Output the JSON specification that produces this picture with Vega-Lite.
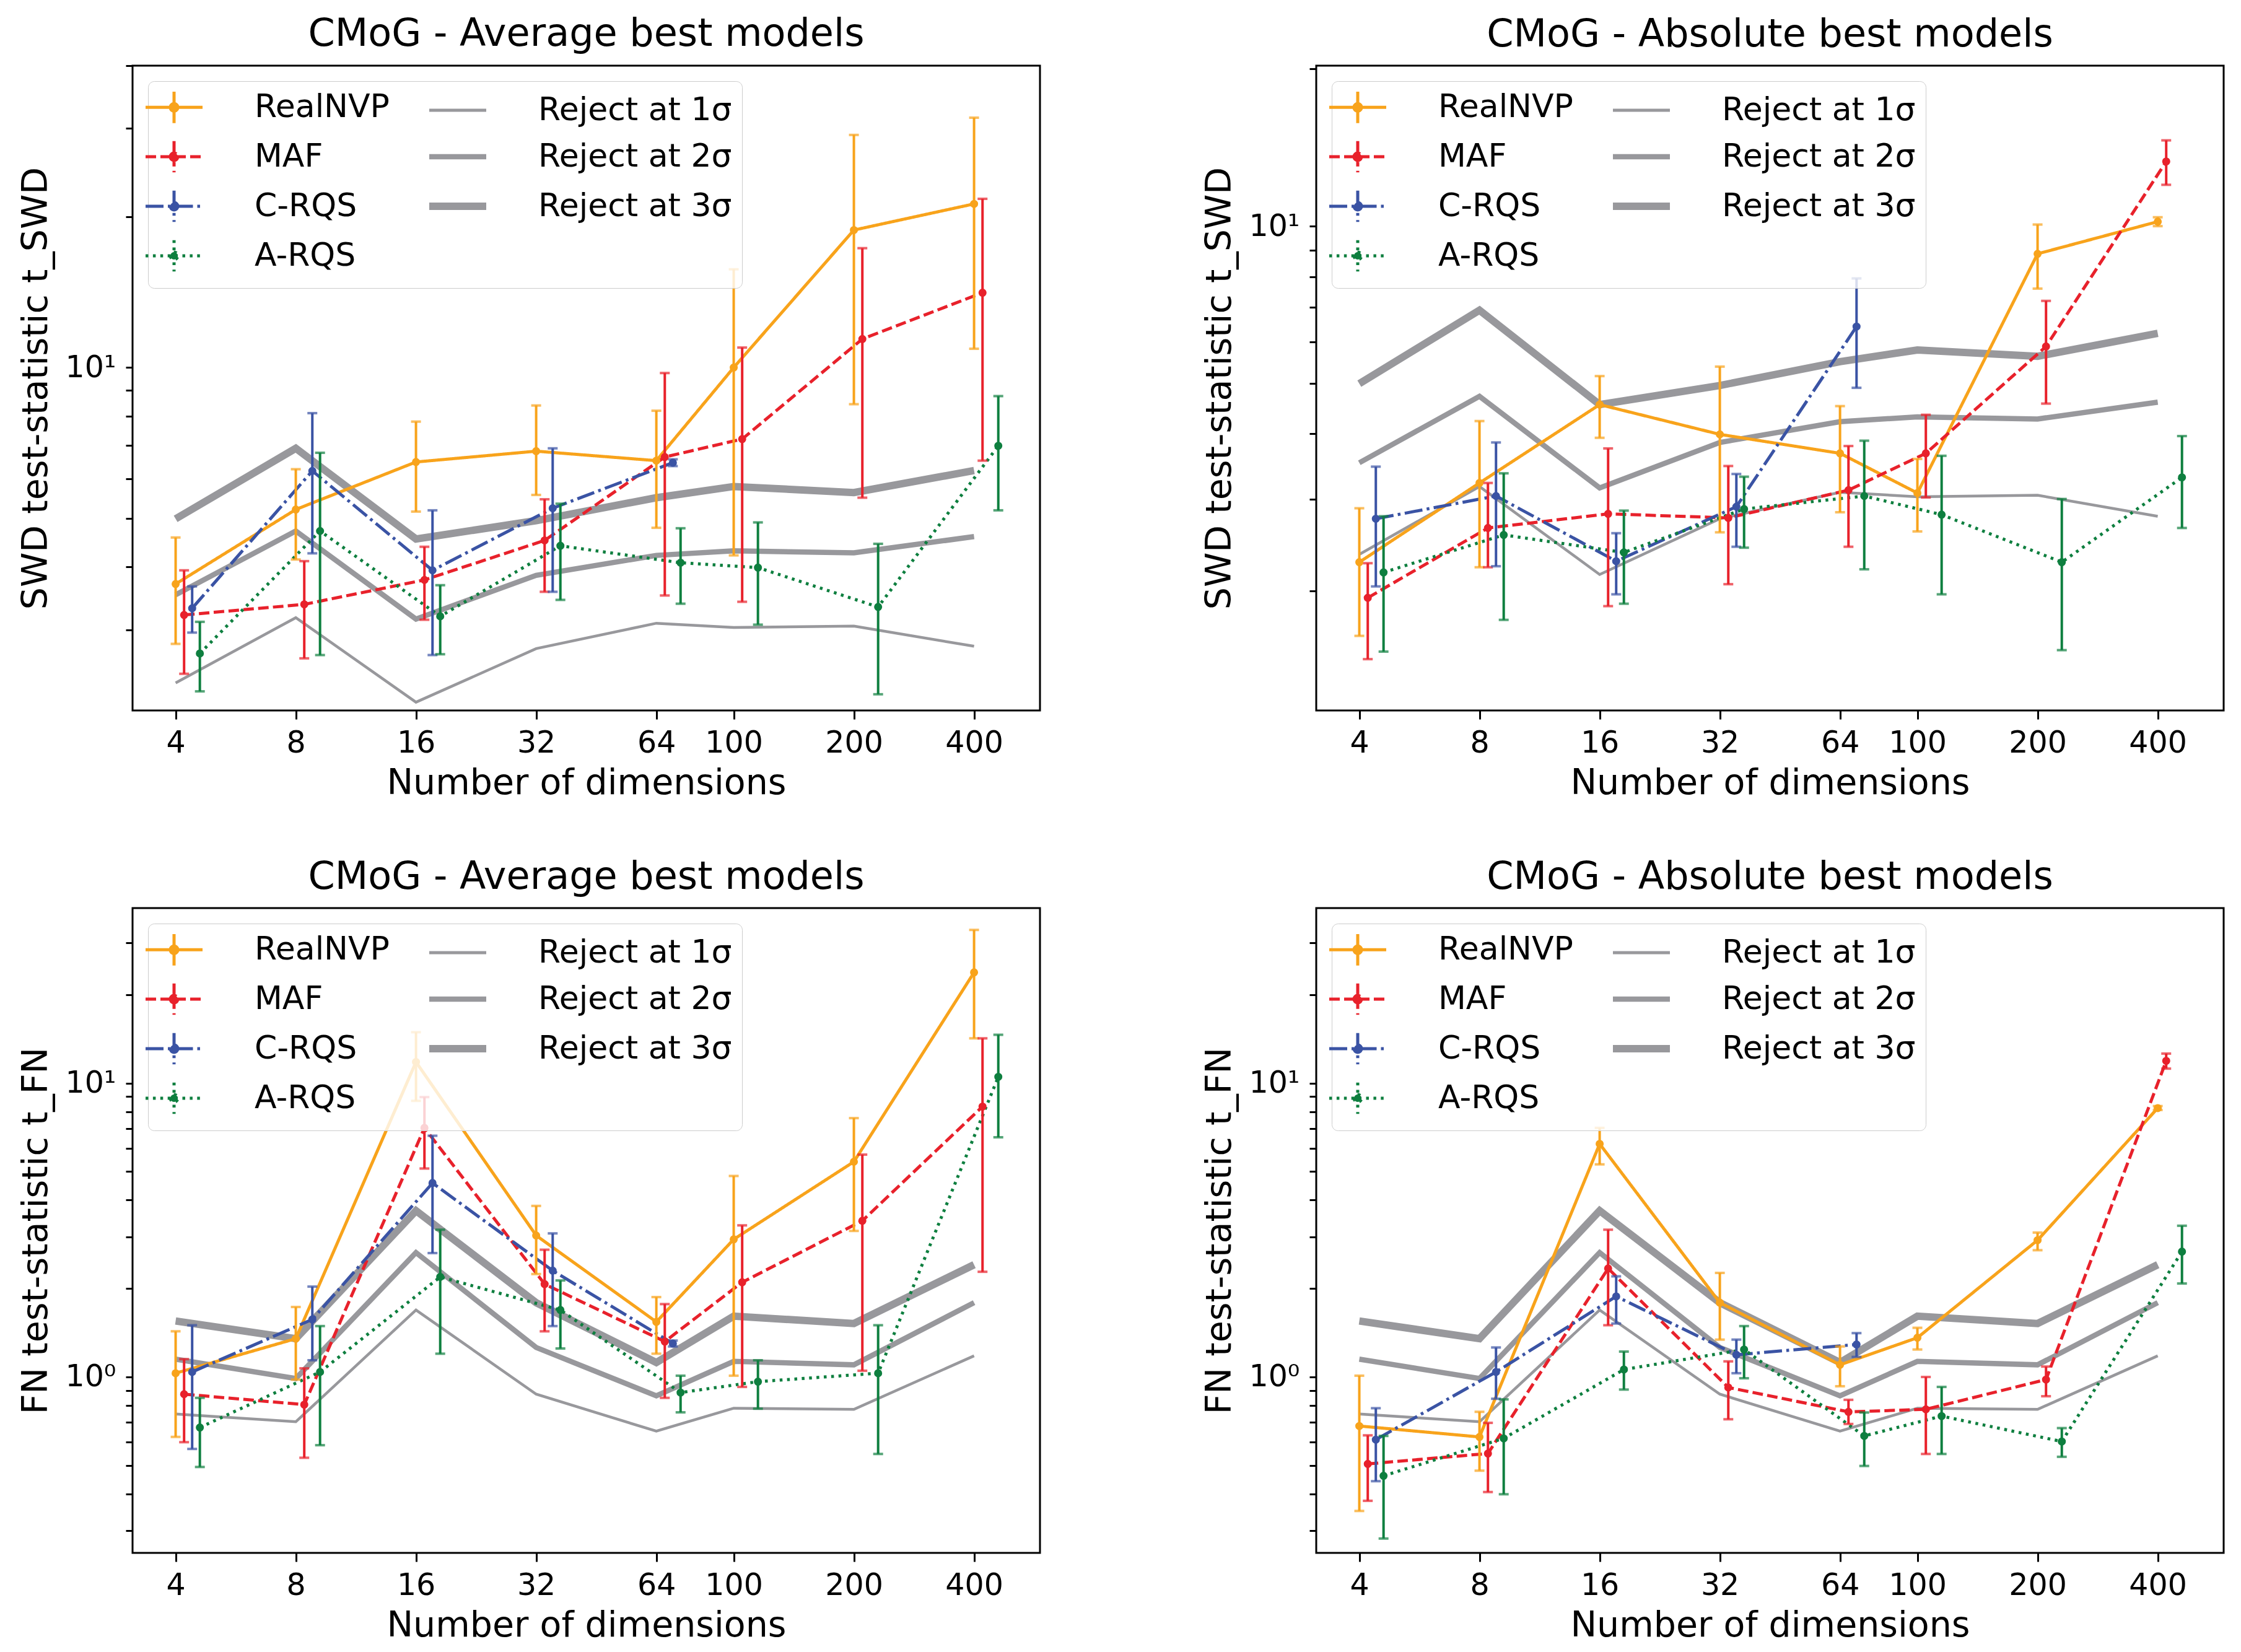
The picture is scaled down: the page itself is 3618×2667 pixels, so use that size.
{
  "$schema": "https://vega.github.io/schema/vega-lite/v6.json",
  "padding": {"left": 27, "top": 22, "right": 30, "bottom": 5},
  "background": "white",
  "bounds": "flush",
  "columns": 2,
  "spacing": {"row": 319, "column": 446},
  "resolve": {
    "scale": {"color": "independent", "strokeDash": "independent", "strokeWidth": "independent"},
    "legend": {"color": "independent", "strokeDash": "independent", "strokeWidth": "independent"}
  },
  "config": {
    "font": "DejaVu Sans",
    "view": {"stroke": "black", "strokeWidth": 3},
    "axis": {
      "domain": false, "grid": false, "tickColor": "black", "tickWidth": 3,
      "labelColor": "black", "labelFontSize": 49, "labelFont": "DejaVu Sans",
      "titleFontSize": 57, "titleFontWeight": "normal", "titleColor": "black", "titleFont": "DejaVu Sans"
    },
    "axisX": {"titlePadding": 12, "tickSize": 14, "labelPadding": 14},
    "axisY": {"titlePadding": 18, "labelPadding": 16, "tickSize": 11},
    "title": {"fontSize": 62, "fontWeight": "normal", "color": "black", "font": "DejaVu Sans", "offset": 18}
  },
  "datasets": {
    "swd_avg": [
      {"series": "RealNVP", "x": 4, "y": 3.70, "lo": 2.81, "hi": 4.58},
      {"series": "RealNVP", "x": 8, "y": 5.21, "lo": 4.14, "hi": 6.27},
      {"series": "RealNVP", "x": 16, "y": 6.48, "lo": 5.16, "hi": 7.80},
      {"series": "RealNVP", "x": 32, "y": 6.81, "lo": 5.57, "hi": 8.40},
      {"series": "RealNVP", "x": 64, "y": 6.52, "lo": 4.79, "hi": 8.20},
      {"series": "RealNVP", "x": 100, "y": 10.0, "lo": 4.22, "hi": 15.7},
      {"series": "RealNVP", "x": 200, "y": 18.8, "lo": 8.45, "hi": 29.1},
      {"series": "RealNVP", "x": 400, "y": 21.2, "lo": 10.9, "hi": 31.5},
      {"series": "MAF", "x": 4.2, "y": 3.21, "lo": 2.45, "hi": 3.94},
      {"series": "MAF", "x": 8.4, "y": 3.37, "lo": 2.63, "hi": 4.11},
      {"series": "MAF", "x": 16.8, "y": 3.77, "lo": 3.14, "hi": 4.39},
      {"series": "MAF", "x": 33.6, "y": 4.52, "lo": 3.57, "hi": 5.46},
      {"series": "MAF", "x": 67.2, "y": 6.63, "lo": 3.51, "hi": 9.75},
      {"series": "MAF", "x": 105, "y": 7.20, "lo": 3.41, "hi": 10.96},
      {"series": "MAF", "x": 210, "y": 11.4, "lo": 5.50, "hi": 17.3},
      {"series": "MAF", "x": 420, "y": 14.1, "lo": 6.52, "hi": 21.7},
      {"series": "C-RQS", "x": 4.4, "y": 3.31, "lo": 2.96, "hi": 3.66},
      {"series": "C-RQS", "x": 8.8, "y": 6.22, "lo": 4.26, "hi": 8.11},
      {"series": "C-RQS", "x": 17.6, "y": 3.94, "lo": 2.67, "hi": 5.19},
      {"series": "C-RQS", "x": 35.2, "y": 5.24, "lo": 3.57, "hi": 6.90},
      {"series": "C-RQS", "x": 70.4, "y": 6.46, "lo": 6.36, "hi": 6.56},
      {"series": "A-RQS", "x": 4.6, "y": 2.69, "lo": 2.26, "hi": 3.11},
      {"series": "A-RQS", "x": 9.2, "y": 4.72, "lo": 2.67, "hi": 6.76},
      {"series": "A-RQS", "x": 18.4, "y": 3.19, "lo": 2.68, "hi": 3.68},
      {"series": "A-RQS", "x": 36.8, "y": 4.41, "lo": 3.44, "hi": 5.35},
      {"series": "A-RQS", "x": 73.6, "y": 4.08, "lo": 3.38, "hi": 4.78},
      {"series": "A-RQS", "x": 115, "y": 3.99, "lo": 3.07, "hi": 4.91},
      {"series": "A-RQS", "x": 230, "y": 3.33, "lo": 2.23, "hi": 4.45},
      {"series": "A-RQS", "x": 460, "y": 6.98, "lo": 5.19, "hi": 8.77}
    ],
    "swd_abs": [
      {"series": "RealNVP", "x": 4, "y": 2.27, "lo": 1.64, "hi": 2.88},
      {"series": "RealNVP", "x": 8, "y": 3.22, "lo": 2.22, "hi": 4.23},
      {"series": "RealNVP", "x": 16, "y": 4.55, "lo": 3.93, "hi": 5.16},
      {"series": "RealNVP", "x": 32, "y": 3.99, "lo": 2.59, "hi": 5.38},
      {"series": "RealNVP", "x": 64, "y": 3.67, "lo": 2.83, "hi": 4.52},
      {"series": "RealNVP", "x": 100, "y": 3.08, "lo": 2.60, "hi": 3.58},
      {"series": "RealNVP", "x": 200, "y": 8.85, "lo": 7.59, "hi": 10.07},
      {"series": "RealNVP", "x": 400, "y": 10.2, "lo": 10.0, "hi": 10.4},
      {"series": "MAF", "x": 4.2, "y": 1.94, "lo": 1.48, "hi": 2.26},
      {"series": "MAF", "x": 8.4, "y": 2.64, "lo": 2.22, "hi": 3.22},
      {"series": "MAF", "x": 16.8, "y": 2.81, "lo": 1.87, "hi": 3.75},
      {"series": "MAF", "x": 33.6, "y": 2.76, "lo": 2.06, "hi": 3.47},
      {"series": "MAF", "x": 67.2, "y": 3.12, "lo": 2.43, "hi": 3.79},
      {"series": "MAF", "x": 105, "y": 3.67, "lo": 3.02, "hi": 4.35},
      {"series": "MAF", "x": 210, "y": 5.88, "lo": 4.57, "hi": 7.19},
      {"series": "MAF", "x": 420, "y": 13.3, "lo": 12.0, "hi": 14.6},
      {"series": "C-RQS", "x": 4.4, "y": 2.75, "lo": 2.04, "hi": 3.46},
      {"series": "C-RQS", "x": 8.8, "y": 3.04, "lo": 2.23, "hi": 3.85},
      {"series": "C-RQS", "x": 17.6, "y": 2.28, "lo": 1.97, "hi": 2.58},
      {"series": "C-RQS", "x": 35.2, "y": 2.90, "lo": 2.43, "hi": 3.35},
      {"series": "C-RQS", "x": 70.4, "y": 6.42, "lo": 4.90, "hi": 7.94},
      {"series": "A-RQS", "x": 4.6, "y": 2.17, "lo": 1.53, "hi": 2.78},
      {"series": "A-RQS", "x": 9.2, "y": 2.56, "lo": 1.76, "hi": 3.36},
      {"series": "A-RQS", "x": 18.4, "y": 2.37, "lo": 1.89, "hi": 2.85},
      {"series": "A-RQS", "x": 36.8, "y": 2.87, "lo": 2.42, "hi": 3.31},
      {"series": "A-RQS", "x": 73.6, "y": 3.04, "lo": 2.20, "hi": 3.88},
      {"series": "A-RQS", "x": 115, "y": 2.80, "lo": 1.97, "hi": 3.63},
      {"series": "A-RQS", "x": 230, "y": 2.27, "lo": 1.54, "hi": 3.00},
      {"series": "A-RQS", "x": 460, "y": 3.30, "lo": 2.64, "hi": 3.96}
    ],
    "rej_swd": [
      {"series": "Reject at 1σ", "x": 4, "y": 2.35},
      {"series": "Reject at 1σ", "x": 8, "y": 3.17},
      {"series": "Reject at 1σ", "x": 16, "y": 2.15},
      {"series": "Reject at 1σ", "x": 32, "y": 2.75},
      {"series": "Reject at 1σ", "x": 64, "y": 3.09},
      {"series": "Reject at 1σ", "x": 100, "y": 3.03},
      {"series": "Reject at 1σ", "x": 200, "y": 3.05},
      {"series": "Reject at 1σ", "x": 400, "y": 2.78},
      {"series": "Reject at 2σ", "x": 4, "y": 3.52},
      {"series": "Reject at 2σ", "x": 8, "y": 4.72},
      {"series": "Reject at 2σ", "x": 16, "y": 3.15},
      {"series": "Reject at 2σ", "x": 32, "y": 3.85},
      {"series": "Reject at 2σ", "x": 64, "y": 4.22},
      {"series": "Reject at 2σ", "x": 100, "y": 4.31},
      {"series": "Reject at 2σ", "x": 200, "y": 4.27},
      {"series": "Reject at 2σ", "x": 400, "y": 4.60},
      {"series": "Reject at 3σ", "x": 4, "y": 4.99},
      {"series": "Reject at 3σ", "x": 8, "y": 6.90},
      {"series": "Reject at 3σ", "x": 16, "y": 4.55},
      {"series": "Reject at 3σ", "x": 32, "y": 4.95},
      {"series": "Reject at 3σ", "x": 64, "y": 5.50},
      {"series": "Reject at 3σ", "x": 100, "y": 5.79},
      {"series": "Reject at 3σ", "x": 200, "y": 5.63},
      {"series": "Reject at 3σ", "x": 400, "y": 6.23}
    ],
    "fn_avg": [
      {"series": "RealNVP", "x": 4, "y": 1.03, "lo": 0.625, "hi": 1.43},
      {"series": "RealNVP", "x": 8, "y": 1.35, "lo": 0.98, "hi": 1.73},
      {"series": "RealNVP", "x": 16, "y": 11.8, "lo": 8.7, "hi": 14.9},
      {"series": "RealNVP", "x": 32, "y": 3.03, "lo": 2.24, "hi": 3.82},
      {"series": "RealNVP", "x": 64, "y": 1.54, "lo": 1.20, "hi": 1.87},
      {"series": "RealNVP", "x": 100, "y": 2.94, "lo": 1.01, "hi": 4.83},
      {"series": "RealNVP", "x": 200, "y": 5.40, "lo": 3.14, "hi": 7.60},
      {"series": "RealNVP", "x": 400, "y": 23.8, "lo": 14.2, "hi": 33.2},
      {"series": "MAF", "x": 4.2, "y": 0.874, "lo": 0.60, "hi": 1.15},
      {"series": "MAF", "x": 8.4, "y": 0.805, "lo": 0.531, "hi": 1.07},
      {"series": "MAF", "x": 16.8, "y": 7.04, "lo": 5.12, "hi": 8.96},
      {"series": "MAF", "x": 33.6, "y": 2.07, "lo": 1.43, "hi": 2.71},
      {"series": "MAF", "x": 67.2, "y": 1.32, "lo": 0.849, "hi": 1.77},
      {"series": "MAF", "x": 105, "y": 2.10, "lo": 0.925, "hi": 3.28},
      {"series": "MAF", "x": 210, "y": 3.40, "lo": 1.05, "hi": 5.71},
      {"series": "MAF", "x": 420, "y": 8.32, "lo": 2.28, "hi": 14.2},
      {"series": "C-RQS", "x": 4.4, "y": 1.04, "lo": 0.569, "hi": 1.50},
      {"series": "C-RQS", "x": 8.8, "y": 1.57, "lo": 1.14, "hi": 2.03},
      {"series": "C-RQS", "x": 17.6, "y": 4.57, "lo": 2.64, "hi": 6.62},
      {"series": "C-RQS", "x": 35.2, "y": 2.30, "lo": 1.49, "hi": 3.08},
      {"series": "C-RQS", "x": 70.4, "y": 1.30, "lo": 1.27, "hi": 1.33},
      {"series": "A-RQS", "x": 4.6, "y": 0.673, "lo": 0.494, "hi": 0.849},
      {"series": "A-RQS", "x": 9.2, "y": 1.04, "lo": 0.586, "hi": 1.49},
      {"series": "A-RQS", "x": 18.4, "y": 2.19, "lo": 1.20, "hi": 3.17},
      {"series": "A-RQS", "x": 36.8, "y": 1.69, "lo": 1.25, "hi": 2.13},
      {"series": "A-RQS", "x": 73.6, "y": 0.885, "lo": 0.758, "hi": 1.01},
      {"series": "A-RQS", "x": 115, "y": 0.964, "lo": 0.78, "hi": 1.14},
      {"series": "A-RQS", "x": 230, "y": 1.03, "lo": 0.547, "hi": 1.50},
      {"series": "A-RQS", "x": 460, "y": 10.5, "lo": 6.54, "hi": 14.6}
    ],
    "fn_abs": [
      {"series": "RealNVP", "x": 4, "y": 0.681, "lo": 0.35, "hi": 1.01},
      {"series": "RealNVP", "x": 8, "y": 0.625, "lo": 0.48, "hi": 0.761},
      {"series": "RealNVP", "x": 16, "y": 6.21, "lo": 5.29, "hi": 7.04},
      {"series": "RealNVP", "x": 32, "y": 1.79, "lo": 1.34, "hi": 2.26},
      {"series": "RealNVP", "x": 64, "y": 1.10, "lo": 0.93, "hi": 1.27},
      {"series": "RealNVP", "x": 100, "y": 1.36, "lo": 1.24, "hi": 1.47},
      {"series": "RealNVP", "x": 200, "y": 2.92, "lo": 2.70, "hi": 3.10},
      {"series": "RealNVP", "x": 400, "y": 8.22, "lo": 8.10, "hi": 8.35},
      {"series": "MAF", "x": 4.2, "y": 0.506, "lo": 0.379, "hi": 0.633},
      {"series": "MAF", "x": 8.4, "y": 0.549, "lo": 0.406, "hi": 0.698},
      {"series": "MAF", "x": 16.8, "y": 2.34, "lo": 1.50, "hi": 3.17},
      {"series": "MAF", "x": 33.6, "y": 0.921, "lo": 0.718, "hi": 1.13},
      {"series": "MAF", "x": 67.2, "y": 0.761, "lo": 0.692, "hi": 0.836},
      {"series": "MAF", "x": 105, "y": 0.776, "lo": 0.547, "hi": 1.0},
      {"series": "MAF", "x": 210, "y": 0.98, "lo": 0.86, "hi": 1.085},
      {"series": "MAF", "x": 420, "y": 11.9, "lo": 11.2, "hi": 12.6},
      {"series": "C-RQS", "x": 4.4, "y": 0.612, "lo": 0.442, "hi": 0.783},
      {"series": "C-RQS", "x": 8.8, "y": 1.04, "lo": 0.843, "hi": 1.26},
      {"series": "C-RQS", "x": 17.6, "y": 1.88, "lo": 1.52, "hi": 2.20},
      {"series": "C-RQS", "x": 35.2, "y": 1.19, "lo": 1.03, "hi": 1.34},
      {"series": "C-RQS", "x": 70.4, "y": 1.29, "lo": 1.17, "hi": 1.41},
      {"series": "A-RQS", "x": 4.6, "y": 0.461, "lo": 0.282, "hi": 0.63},
      {"series": "A-RQS", "x": 9.2, "y": 0.618, "lo": 0.399, "hi": 0.839},
      {"series": "A-RQS", "x": 18.4, "y": 1.06, "lo": 0.906, "hi": 1.22},
      {"series": "A-RQS", "x": 36.8, "y": 1.24, "lo": 0.99, "hi": 1.49},
      {"series": "A-RQS", "x": 73.6, "y": 0.63, "lo": 0.498, "hi": 0.757},
      {"series": "A-RQS", "x": 115, "y": 0.736, "lo": 0.547, "hi": 0.925},
      {"series": "A-RQS", "x": 230, "y": 0.603, "lo": 0.535, "hi": 0.67},
      {"series": "A-RQS", "x": 460, "y": 2.67, "lo": 2.08, "hi": 3.27}
    ],
    "rej_fn": [
      {"series": "Reject at 1σ", "x": 4, "y": 0.748},
      {"series": "Reject at 1σ", "x": 8, "y": 0.704},
      {"series": "Reject at 1σ", "x": 16, "y": 1.69},
      {"series": "Reject at 1σ", "x": 32, "y": 0.874},
      {"series": "Reject at 1σ", "x": 64, "y": 0.654},
      {"series": "Reject at 1σ", "x": 100, "y": 0.783},
      {"series": "Reject at 1σ", "x": 200, "y": 0.776},
      {"series": "Reject at 1σ", "x": 400, "y": 1.18},
      {"series": "Reject at 2σ", "x": 4, "y": 1.15},
      {"series": "Reject at 2σ", "x": 8, "y": 0.988},
      {"series": "Reject at 2σ", "x": 16, "y": 2.65},
      {"series": "Reject at 2σ", "x": 32, "y": 1.26},
      {"series": "Reject at 2σ", "x": 64, "y": 0.863},
      {"series": "Reject at 2σ", "x": 100, "y": 1.13},
      {"series": "Reject at 2σ", "x": 200, "y": 1.10},
      {"series": "Reject at 2σ", "x": 400, "y": 1.79},
      {"series": "Reject at 3σ", "x": 4, "y": 1.55},
      {"series": "Reject at 3σ", "x": 8, "y": 1.35},
      {"series": "Reject at 3σ", "x": 16, "y": 3.68},
      {"series": "Reject at 3σ", "x": 32, "y": 1.79},
      {"series": "Reject at 3σ", "x": 64, "y": 1.12},
      {"series": "Reject at 3σ", "x": 100, "y": 1.61},
      {"series": "Reject at 3σ", "x": 200, "y": 1.52},
      {"series": "Reject at 3σ", "x": 400, "y": 2.41}
    ]
  },
  "concat": [
    {
      "width": 1465, "height": 1041,
      "title": "CMoG - Average best models",
      "encoding": {
        "x": {"field": "x", "type": "quantitative", "scale": {"type": "log", "domain": [3.12, 585], "nice": false}, "axis": {"title": "Number of dimensions", "values": [4, 8, 16, 32, 64, 100, 200, 400], "format": "d"}},
        "color": {"field": "series", "type": "nominal", "scale": {"domain": ["RealNVP", "MAF", "C-RQS", "A-RQS", "Reject at 1σ", "Reject at 2σ", "Reject at 3σ"], "range": ["#F8A31B", "#E8212B", "#3A53A4", "#0E7F3F", "#98989C", "#98989C", "#98989C"]},
          "legend": {"title": null, "orient": "top-left", "offset": 25, "columns": 2, "symbolType": "stroke", "symbolSize": 8464, "labelFontSize": 52, "labelColor": "black", "labelLimit": 800, "labelOffset": 104, "columnPadding": 40, "rowPadding": 8, "padding": 16, "strokeColor": "#cccccc", "fillColor": "rgba(255,255,255,0.8)", "cornerRadius": 10,
            "encode": {"symbols": {"update": {
              "shape": {"signal": "indexof(['RealNVP','MAF','C-RQS','A-RQS'], datum.value) >= 0 ? 'M-1,0H1M0,-0.55V0.55M-0.13,0A0.13,0.13,0,1,0,0.13,0A0.13,0.13,0,1,0,-0.13,0' : 'M-1,0H1'"},
              "fill": {"signal": "datum.value === 'RealNVP' ? '#F8A31B' : datum.value === 'MAF' ? '#E8212B' : datum.value === 'C-RQS' ? '#3A53A4' : datum.value === 'A-RQS' ? '#0E7F3F' : 'transparent'"},
              "strokeDash": {"signal": "datum.value === 'MAF' ? [17,7] : datum.value === 'C-RQS' ? [29,7,4.5,7] : datum.value === 'A-RQS' ? [4.5,7.4] : [1,0]"},
              "strokeWidth": {"signal": "datum.value === 'Reject at 2σ' ? 8.5 : datum.value === 'Reject at 3σ' ? 12 : 5"}
            }}}}}
      },
      "layer": [
        {"data": {"name": "rej_swd"}, "mark": {"type": "line"},
         "encoding": {
           "y": {"field": "y", "type": "quantitative", "scale": {"type": "log", "domain": [2.07, 40], "nice": false}, "axis": {"title": "SWD test-statistic t_SWD", "values": [3, 4, 5, 6, 7, 8, 9, 10, 20, 30, 40], "labelExpr": "datum.value == 10 ? '10¹' : ''"}},
           "strokeWidth": {"field": "series", "type": "nominal", "scale": {"type": "ordinal", "domain": ["Reject at 1σ", "Reject at 2σ", "Reject at 3σ"], "range": [4.5, 8.5, 12]}, "legend": null},
           "order": {"field": "x", "type": "quantitative"}
         }},
        {"data": {"name": "swd_avg"}, "mark": {"type": "line", "strokeWidth": 5},
         "encoding": {
           "y": {"field": "y", "type": "quantitative"},
           "strokeDash": {"field": "series", "type": "nominal", "scale": {"domain": ["RealNVP", "MAF", "C-RQS", "A-RQS"], "range": [[1, 0], [17, 7], [29, 7, 4.5, 7], [4.5, 7.4]]}, "legend": null},
           "order": {"field": "x", "type": "quantitative"}
         }},
        {"data": {"name": "swd_avg"}, "mark": {"type": "rule", "strokeWidth": 4},
         "encoding": {"y": {"field": "lo", "type": "quantitative"}, "y2": {"field": "hi"}}},
        {"data": {"name": "swd_avg"}, "mark": {"type": "tick", "orient": "horizontal", "size": 16, "thickness": 4},
         "encoding": {"y": {"field": "lo", "type": "quantitative"}}},
        {"data": {"name": "swd_avg"}, "mark": {"type": "tick", "orient": "horizontal", "size": 16, "thickness": 4},
         "encoding": {"y": {"field": "hi", "type": "quantitative"}}},
        {"data": {"name": "swd_avg"}, "mark": {"type": "point", "filled": true, "size": 170, "opacity": 1},
         "encoding": {"y": {"field": "y", "type": "quantitative"}}}
      ]
    },
    {
      "width": 1465, "height": 1041,
      "title": "CMoG - Absolute best models",
      "encoding": {
        "x": {"field": "x", "type": "quantitative", "scale": {"type": "log", "domain": [3.12, 585], "nice": false}, "axis": {"title": "Number of dimensions", "values": [4, 8, 16, 32, 64, 100, 200, 400], "format": "d"}},
        "color": {"field": "series", "type": "nominal", "scale": {"domain": ["RealNVP", "MAF", "C-RQS", "A-RQS", "Reject at 1σ", "Reject at 2σ", "Reject at 3σ"], "range": ["#F8A31B", "#E8212B", "#3A53A4", "#0E7F3F", "#98989C", "#98989C", "#98989C"]},
          "legend": {"title": null, "orient": "top-left", "offset": 25, "columns": 2, "symbolType": "stroke", "symbolSize": 8464, "labelFontSize": 52, "labelColor": "black", "labelLimit": 800, "labelOffset": 104, "columnPadding": 40, "rowPadding": 8, "padding": 16, "strokeColor": "#cccccc", "fillColor": "rgba(255,255,255,0.8)", "cornerRadius": 10,
            "encode": {"symbols": {"update": {
              "shape": {"signal": "indexof(['RealNVP','MAF','C-RQS','A-RQS'], datum.value) >= 0 ? 'M-1,0H1M0,-0.55V0.55M-0.13,0A0.13,0.13,0,1,0,0.13,0A0.13,0.13,0,1,0,-0.13,0' : 'M-1,0H1'"},
              "fill": {"signal": "datum.value === 'RealNVP' ? '#F8A31B' : datum.value === 'MAF' ? '#E8212B' : datum.value === 'C-RQS' ? '#3A53A4' : datum.value === 'A-RQS' ? '#0E7F3F' : 'transparent'"},
              "strokeDash": {"signal": "datum.value === 'MAF' ? [17,7] : datum.value === 'C-RQS' ? [29,7,4.5,7] : datum.value === 'A-RQS' ? [4.5,7.4] : [1,0]"},
              "strokeWidth": {"signal": "datum.value === 'Reject at 2σ' ? 8.5 : datum.value === 'Reject at 3σ' ? 12 : 5"}
            }}}}}
      },
      "layer": [
        {"data": {"name": "rej_swd"}, "mark": {"type": "line"},
         "encoding": {
           "y": {"field": "y", "type": "quantitative", "scale": {"type": "log", "domain": [1.18, 20.3], "nice": false}, "axis": {"title": "SWD test-statistic t_SWD", "values": [2, 3, 4, 5, 6, 7, 8, 9, 10, 20], "labelExpr": "datum.value == 10 ? '10¹' : ''"}},
           "strokeWidth": {"field": "series", "type": "nominal", "scale": {"type": "ordinal", "domain": ["Reject at 1σ", "Reject at 2σ", "Reject at 3σ"], "range": [4.5, 8.5, 12]}, "legend": null},
           "order": {"field": "x", "type": "quantitative"}
         }},
        {"data": {"name": "swd_abs"}, "mark": {"type": "line", "strokeWidth": 5},
         "encoding": {
           "y": {"field": "y", "type": "quantitative"},
           "strokeDash": {"field": "series", "type": "nominal", "scale": {"domain": ["RealNVP", "MAF", "C-RQS", "A-RQS"], "range": [[1, 0], [17, 7], [29, 7, 4.5, 7], [4.5, 7.4]]}, "legend": null},
           "order": {"field": "x", "type": "quantitative"}
         }},
        {"data": {"name": "swd_abs"}, "mark": {"type": "rule", "strokeWidth": 4},
         "encoding": {"y": {"field": "lo", "type": "quantitative"}, "y2": {"field": "hi"}}},
        {"data": {"name": "swd_abs"}, "mark": {"type": "tick", "orient": "horizontal", "size": 16, "thickness": 4},
         "encoding": {"y": {"field": "lo", "type": "quantitative"}}},
        {"data": {"name": "swd_abs"}, "mark": {"type": "tick", "orient": "horizontal", "size": 16, "thickness": 4},
         "encoding": {"y": {"field": "hi", "type": "quantitative"}}},
        {"data": {"name": "swd_abs"}, "mark": {"type": "point", "filled": true, "size": 170, "opacity": 1},
         "encoding": {"y": {"field": "y", "type": "quantitative"}}}
      ]
    },
    {
      "width": 1465, "height": 1041,
      "title": "CMoG - Average best models",
      "encoding": {
        "x": {"field": "x", "type": "quantitative", "scale": {"type": "log", "domain": [3.12, 585], "nice": false}, "axis": {"title": "Number of dimensions", "values": [4, 8, 16, 32, 64, 100, 200, 400], "format": "d"}},
        "color": {"field": "series", "type": "nominal", "scale": {"domain": ["RealNVP", "MAF", "C-RQS", "A-RQS", "Reject at 1σ", "Reject at 2σ", "Reject at 3σ"], "range": ["#F8A31B", "#E8212B", "#3A53A4", "#0E7F3F", "#98989C", "#98989C", "#98989C"]},
          "legend": {"title": null, "orient": "top-left", "offset": 25, "columns": 2, "symbolType": "stroke", "symbolSize": 8464, "labelFontSize": 52, "labelColor": "black", "labelLimit": 800, "labelOffset": 104, "columnPadding": 40, "rowPadding": 8, "padding": 16, "strokeColor": "#cccccc", "fillColor": "rgba(255,255,255,0.8)", "cornerRadius": 10,
            "encode": {"symbols": {"update": {
              "shape": {"signal": "indexof(['RealNVP','MAF','C-RQS','A-RQS'], datum.value) >= 0 ? 'M-1,0H1M0,-0.55V0.55M-0.13,0A0.13,0.13,0,1,0,0.13,0A0.13,0.13,0,1,0,-0.13,0' : 'M-1,0H1'"},
              "fill": {"signal": "datum.value === 'RealNVP' ? '#F8A31B' : datum.value === 'MAF' ? '#E8212B' : datum.value === 'C-RQS' ? '#3A53A4' : datum.value === 'A-RQS' ? '#0E7F3F' : 'transparent'"},
              "strokeDash": {"signal": "datum.value === 'MAF' ? [17,7] : datum.value === 'C-RQS' ? [29,7,4.5,7] : datum.value === 'A-RQS' ? [4.5,7.4] : [1,0]"},
              "strokeWidth": {"signal": "datum.value === 'Reject at 2σ' ? 8.5 : datum.value === 'Reject at 3σ' ? 12 : 5"}
            }}}}}
      },
      "layer": [
        {"data": {"name": "rej_fn"}, "mark": {"type": "line"},
         "encoding": {
           "y": {"field": "y", "type": "quantitative", "scale": {"type": "log", "domain": [0.252, 39.4], "nice": false}, "axis": {"title": "FN test-statistic t_FN", "values": [0.3, 0.4, 0.5, 0.6, 0.7, 0.8, 0.9, 1, 2, 3, 4, 5, 6, 7, 8, 9, 10, 20, 30], "labelExpr": "datum.value == 10 ? '10¹' : datum.value == 1 ? '10⁰' : ''"}},
           "strokeWidth": {"field": "series", "type": "nominal", "scale": {"type": "ordinal", "domain": ["Reject at 1σ", "Reject at 2σ", "Reject at 3σ"], "range": [4.5, 8.5, 12]}, "legend": null},
           "order": {"field": "x", "type": "quantitative"}
         }},
        {"data": {"name": "fn_avg"}, "mark": {"type": "line", "strokeWidth": 5},
         "encoding": {
           "y": {"field": "y", "type": "quantitative"},
           "strokeDash": {"field": "series", "type": "nominal", "scale": {"domain": ["RealNVP", "MAF", "C-RQS", "A-RQS"], "range": [[1, 0], [17, 7], [29, 7, 4.5, 7], [4.5, 7.4]]}, "legend": null},
           "order": {"field": "x", "type": "quantitative"}
         }},
        {"data": {"name": "fn_avg"}, "mark": {"type": "rule", "strokeWidth": 4},
         "encoding": {"y": {"field": "lo", "type": "quantitative"}, "y2": {"field": "hi"}}},
        {"data": {"name": "fn_avg"}, "mark": {"type": "tick", "orient": "horizontal", "size": 16, "thickness": 4},
         "encoding": {"y": {"field": "lo", "type": "quantitative"}}},
        {"data": {"name": "fn_avg"}, "mark": {"type": "tick", "orient": "horizontal", "size": 16, "thickness": 4},
         "encoding": {"y": {"field": "hi", "type": "quantitative"}}},
        {"data": {"name": "fn_avg"}, "mark": {"type": "point", "filled": true, "size": 170, "opacity": 1},
         "encoding": {"y": {"field": "y", "type": "quantitative"}}}
      ]
    },
    {
      "width": 1465, "height": 1041,
      "title": "CMoG - Absolute best models",
      "encoding": {
        "x": {"field": "x", "type": "quantitative", "scale": {"type": "log", "domain": [3.12, 585], "nice": false}, "axis": {"title": "Number of dimensions", "values": [4, 8, 16, 32, 64, 100, 200, 400], "format": "d"}},
        "color": {"field": "series", "type": "nominal", "scale": {"domain": ["RealNVP", "MAF", "C-RQS", "A-RQS", "Reject at 1σ", "Reject at 2σ", "Reject at 3σ"], "range": ["#F8A31B", "#E8212B", "#3A53A4", "#0E7F3F", "#98989C", "#98989C", "#98989C"]},
          "legend": {"title": null, "orient": "top-left", "offset": 25, "columns": 2, "symbolType": "stroke", "symbolSize": 8464, "labelFontSize": 52, "labelColor": "black", "labelLimit": 800, "labelOffset": 104, "columnPadding": 40, "rowPadding": 8, "padding": 16, "strokeColor": "#cccccc", "fillColor": "rgba(255,255,255,0.8)", "cornerRadius": 10,
            "encode": {"symbols": {"update": {
              "shape": {"signal": "indexof(['RealNVP','MAF','C-RQS','A-RQS'], datum.value) >= 0 ? 'M-1,0H1M0,-0.55V0.55M-0.13,0A0.13,0.13,0,1,0,0.13,0A0.13,0.13,0,1,0,-0.13,0' : 'M-1,0H1'"},
              "fill": {"signal": "datum.value === 'RealNVP' ? '#F8A31B' : datum.value === 'MAF' ? '#E8212B' : datum.value === 'C-RQS' ? '#3A53A4' : datum.value === 'A-RQS' ? '#0E7F3F' : 'transparent'"},
              "strokeDash": {"signal": "datum.value === 'MAF' ? [17,7] : datum.value === 'C-RQS' ? [29,7,4.5,7] : datum.value === 'A-RQS' ? [4.5,7.4] : [1,0]"},
              "strokeWidth": {"signal": "datum.value === 'Reject at 2σ' ? 8.5 : datum.value === 'Reject at 3σ' ? 12 : 5"}
            }}}}}
      },
      "layer": [
        {"data": {"name": "rej_fn"}, "mark": {"type": "line"},
         "encoding": {
           "y": {"field": "y", "type": "quantitative", "scale": {"type": "log", "domain": [0.252, 39.4], "nice": false}, "axis": {"title": "FN test-statistic t_FN", "values": [0.3, 0.4, 0.5, 0.6, 0.7, 0.8, 0.9, 1, 2, 3, 4, 5, 6, 7, 8, 9, 10, 20, 30], "labelExpr": "datum.value == 10 ? '10¹' : datum.value == 1 ? '10⁰' : ''"}},
           "strokeWidth": {"field": "series", "type": "nominal", "scale": {"type": "ordinal", "domain": ["Reject at 1σ", "Reject at 2σ", "Reject at 3σ"], "range": [4.5, 8.5, 12]}, "legend": null},
           "order": {"field": "x", "type": "quantitative"}
         }},
        {"data": {"name": "fn_abs"}, "mark": {"type": "line", "strokeWidth": 5},
         "encoding": {
           "y": {"field": "y", "type": "quantitative"},
           "strokeDash": {"field": "series", "type": "nominal", "scale": {"domain": ["RealNVP", "MAF", "C-RQS", "A-RQS"], "range": [[1, 0], [17, 7], [29, 7, 4.5, 7], [4.5, 7.4]]}, "legend": null},
           "order": {"field": "x", "type": "quantitative"}
         }},
        {"data": {"name": "fn_abs"}, "mark": {"type": "rule", "strokeWidth": 4},
         "encoding": {"y": {"field": "lo", "type": "quantitative"}, "y2": {"field": "hi"}}},
        {"data": {"name": "fn_abs"}, "mark": {"type": "tick", "orient": "horizontal", "size": 16, "thickness": 4},
         "encoding": {"y": {"field": "lo", "type": "quantitative"}}},
        {"data": {"name": "fn_abs"}, "mark": {"type": "tick", "orient": "horizontal", "size": 16, "thickness": 4},
         "encoding": {"y": {"field": "hi", "type": "quantitative"}}},
        {"data": {"name": "fn_abs"}, "mark": {"type": "point", "filled": true, "size": 170, "opacity": 1},
         "encoding": {"y": {"field": "y", "type": "quantitative"}}}
      ]
    }
  ]
}
